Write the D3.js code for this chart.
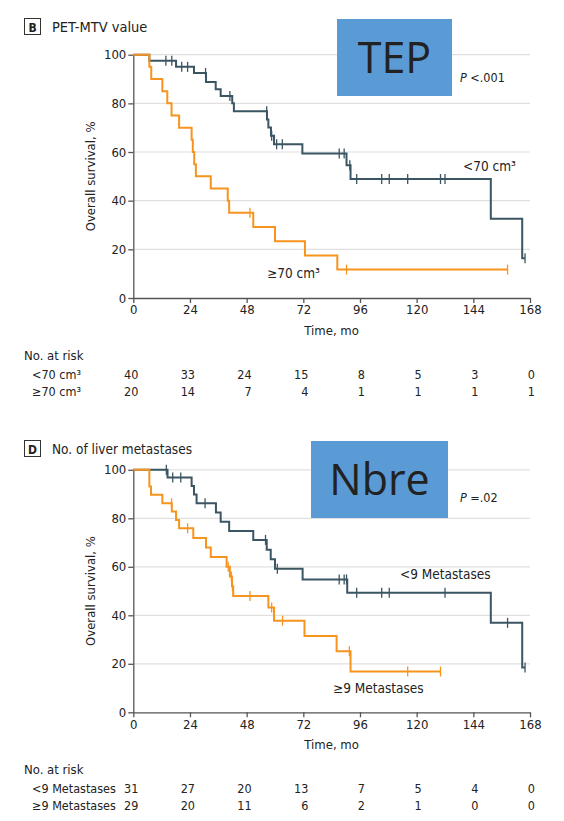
<!DOCTYPE html>
<html>
<head>
<meta charset="utf-8">
<script src="https://cdn.jsdelivr.net/npm/d3@7"></script>
<style>
body { margin: 0; background: #fff; }
text { font-family: "Liberation Sans Narrow", "DejaVu Sans Condensed", sans-serif; fill: #222; }
</style>
</head>
<body>
<svg width="564" height="821"></svg>
<script>
/*global d3*/

var months = [0, 24, 48, 72, 96, 120, 144, 168];
var survTicks = [0, 20, 40, 60, 80, 100];

// panel B - PET-MTV value
var mtvLowTimes = [0, 6.8, 18.1, 25.7, 30.8, 34.9, 37.0, 41.9, 42.6, 56.6, 57.2, 58.3, 59.6, 71.6, 90.3, 92.0, 151.4, 164.7];
var mtvLowSurv = [100, 97.5, 95, 92.5, 88.8, 85.8, 83.0, 80.0, 76.8, 73.4, 70.1, 66.7, 63.2, 59.4, 54.6, 48.9, 32.6, 16.3];
var mtvLowCensor = [13.8, 16.3, 20.5, 23.0, 30.6, 40.9, 56.5, 58.6, 60.7, 63.1, 87.2, 89.3, 91.7, 94.6, 105.2, 108.4, 116.2, 130.1, 132.0, 165.9];
var mtvHighTimes = [0, 6.8, 7.6, 12.3, 14.4, 16.2, 19.4, 24.7, 25.2, 25.8, 26.5, 32.8, 40.0, 40.6, 50.8, 60.0, 72.7, 86.4];
var mtvHighSurv = [100, 95, 90, 85, 80, 75, 70, 65, 60, 55, 50, 45, 40, 35, 29.2, 23.3, 17.5, 11.7];
var mtvHighCensor = [49.4, 90.3, 158.5];
var mtvLowRisk = [40, 33, 24, 15, 8, 5, 3, 0];
var mtvHighRisk = [20, 14, 7, 4, 1, 1, 1, 1];

// panel D - No. of liver metastases
var metLowTimes = [0, 14.5, 24.7, 25.7, 26.8, 35.0, 37.0, 40.6, 50.8, 56.5, 58.2, 60.0, 71.7, 90.6, 151.4, 164.7];
var metLowSurv = [100, 96.8, 93.3, 89.8, 86.2, 82.4, 78.6, 74.8, 71.1, 67.0, 63.1, 59.2, 54.8, 49.3, 36.9, 18.5];
var metLowCensor = [14.0, 16.7, 20.1, 30.4, 56.0, 61.0, 87.2, 89.3, 90.3, 94.6, 105.2, 108.4, 132.0, 158.5, 165.9];
var metHighTimes = [0, 6.8, 7.5, 12.3, 16.3, 18.1, 19.4, 25.4, 30.8, 32.8, 39.5, 40.9, 41.8, 42.3, 57.2, 59.6, 72.5, 86.1, 92.0];
var metHighSurv = [100, 93.1, 89.7, 86.2, 82.8, 79.3, 75.9, 71.9, 68.0, 64.0, 60.0, 56.0, 52.0, 48.0, 43.2, 37.8, 31.5, 25.2, 16.8];
var metHighCensor = [16.2, 23.0, 40.2, 41.5, 42.0, 49.4, 58.6, 63.2, 91.5, 116.2, 130.1];
var metLowRisk = [31, 27, 20, 13, 7, 5, 4, 0];
var metHighRisk = [29, 20, 11, 6, 2, 1, 0, 0];

var darkColor = "#3b5563",
    orangeColor = "#f7941e";

var svg = d3.select("svg");

var x = d3.scaleLinear().domain([0, 168]).range([133.3, 530]);

function stepValue(times, surv, t) {
    var i = d3.bisectRight(times, t) - 1;
    return surv[Math.max(i, 0)];
}

function drawPanel(p) {
    var y = d3.scaleLinear().domain([0, 100]).range([p.bottom, p.top]);
    var g = svg.append("g");

    // title
    g.append("rect")
        .attr("x", 24.5).attr("y", p.titleY - 8.5)
        .attr("width", 16).attr("height", 16)
        .attr("fill", "#fff").attr("stroke", "#333").attr("stroke-width", 1);
    g.append("text")
        .attr("x", 32.5).attr("y", p.titleY + 4.5)
        .attr("text-anchor", "middle")
        .style("font-size", "12px").style("font-weight", "bold")
        .text(p.letter);
    g.append("text")
        .attr("x", 52).attr("y", p.titleY + 5)
        .style("font-size", p.titleSize)
        .text(p.title);

    // grid
    g.selectAll(".grid")
        .data(survTicks.slice(1))
        .enter().append("line")
        .attr("x1", x(0)).attr("x2", x(168))
        .attr("y1", function (d) { return y(d); })
        .attr("y2", function (d) { return y(d); })
        .attr("stroke", "#e0e0e0").attr("stroke-width", 1.2);

    // axes
    var yAxis = g.append("g")
        .attr("transform", "translate(" + x(0) + ",0)")
        .call(d3.axisLeft(y).tickValues(survTicks).tickSize(5).tickSizeOuter(0).tickPadding(2));
    var xAxis = g.append("g")
        .attr("transform", "translate(0," + p.bottom + ")")
        .call(d3.axisBottom(x).tickValues(months).tickSize(5).tickSizeOuter(0).tickPadding(2));
    [yAxis, xAxis].forEach(function (a) {
        a.select(".domain").attr("stroke", "#555").attr("stroke-width", 1.3);
        a.selectAll(".tick line").attr("stroke", "#555").attr("stroke-width", 1.3);
        a.selectAll(".tick text").style("font-size", "13px").attr("fill", "#222")
            .style("font-family", "\"Liberation Sans Narrow\", \"DejaVu Sans Condensed\", sans-serif");
    });

    g.append("text")
        .attr("transform", "translate(95," + (p.top + p.bottom) / 2 + ") rotate(-90)")
        .attr("text-anchor", "middle")
        .style("font-size", "13px")
        .text("Overall survival, %");
    g.append("text")
        .attr("x", (x(0) + x(168)) / 2).attr("y", p.bottom + 37)
        .attr("text-anchor", "middle")
        .style("font-size", "13px")
        .text("Time, mo");

    // curves
    var line = d3.line()
        .x(function (d) { return x(d[0]); })
        .y(function (d) { return y(d[1]); })
        .curve(d3.curveStepAfter);

    p.series.forEach(function (s) {
        var pts = s.times.map(function (t, i) { return [t, s.surv[i]]; });
        var end = d3.max(s.censor);
        pts.push([end, stepValue(s.times, s.surv, end)]);
        g.append("path")
            .datum(pts)
            .attr("d", line)
            .attr("fill", "none")
            .attr("stroke", s.color)
            .attr("stroke-width", 2);
        g.selectAll(null)
            .data(s.censor)
            .enter().append("line")
            .attr("x1", function (d) { return x(d); })
            .attr("x2", function (d) { return x(d); })
            .attr("y1", function (d) { return y(stepValue(s.times, s.surv, d)) - 5; })
            .attr("y2", function (d) { return y(stepValue(s.times, s.surv, d)) + 5; })
            .attr("stroke", s.color)
            .attr("stroke-width", 1.3);
        g.append("text")
            .attr("x", s.labelX).attr("y", s.labelY)
            .style("font-size", "13.5px")
            .text(s.name);
    });

    // blue box
    g.append("rect")
        .attr("x", p.box[0]).attr("y", p.box[1])
        .attr("width", p.box[2]).attr("height", p.box[3])
        .attr("fill", "#5b9bd5");
    g.append("text")
        .attr("x", p.box[0] + p.box[2] / 2).attr("y", p.box[1] + p.box[3] / 2 + 15)
        .attr("text-anchor", "middle")
        .style("font-family", "\"Open Sans\", sans-serif")
        .style("font-size", "43px")
        .attr("fill", "#000")
        .text(p.boxText);

    // p value
    var pt = g.append("text")
        .attr("x", 460).attr("y", p.pY)
        .style("font-size", "12.5px");
    pt.append("tspan").style("font-style", "italic").text("P");
    pt.append("tspan").text(" " + p.pText);

    // number at risk
    g.append("text")
        .attr("x", 24).attr("y", p.bottom + 62)
        .style("font-size", "13px")
        .text("No. at risk");
    p.series.forEach(function (s, k) {
        var ry = p.bottom + 81 + k * 17;
        g.append("text")
            .attr("x", 32).attr("y", ry)
            .style("font-size", "12.5px")
            .text(s.name);
        g.selectAll(null)
            .data(s.risk)
            .enter().append("text")
            .attr("x", function (d, i) { return x(months[i]) + 5; })
            .attr("y", ry)
            .attr("text-anchor", "end")
            .style("font-size", "12.5px")
            .text(function (d) { return d; });
    });
}

drawPanel({
    letter: "B", title: "PET-MTV value", titleY: 27, titleSize: "14.5px",
    top: 54.7, bottom: 298,
    box: [337, 19, 115, 77], boxText: "TEP",
    pText: "<.001", pY: 82,
    series: [
        { name: "<70 cm\u00b3", times: mtvLowTimes, surv: mtvLowSurv, censor: mtvLowCensor, risk: mtvLowRisk, color: darkColor, labelX: 463, labelY: 171 },
        { name: "\u226570 cm\u00b3", times: mtvHighTimes, surv: mtvHighSurv, censor: mtvHighCensor, risk: mtvHighRisk, color: orangeColor, labelX: 267, labelY: 278 }
    ]
});

drawPanel({
    letter: "D", title: "No. of liver metastases", titleY: 449, titleSize: "13.5px",
    top: 469.8, bottom: 712.3,
    box: [311, 441, 137, 77], boxText: "Nbre",
    pText: "=.02", pY: 502,
    series: [
        { name: "<9 Metastases", times: metLowTimes, surv: metLowSurv, censor: metLowCensor, risk: metLowRisk, color: darkColor, labelX: 400, labelY: 579 },
        { name: "\u22659 Metastases", times: metHighTimes, surv: metHighSurv, censor: metHighCensor, risk: metHighRisk, color: orangeColor, labelX: 333, labelY: 693 }
    ]
});
</script>
</body>
</html>
